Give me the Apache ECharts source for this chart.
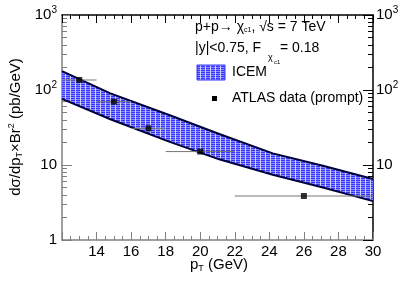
<!DOCTYPE html>
<html><head><meta charset="utf-8">
<script src="https://cdn.jsdelivr.net/npm/echarts@6/dist/echarts.min.js"></script>
<style>html,body{margin:0;padding:0;background:#fff}#c{width:415px;height:284px}</style>
</head><body><div id="c"></div>
<script>
// ICEM band (pT, lower, upper)
const bandPt    = [12, 14.8, 18.2, 21.1, 24.2, 27.1, 30];
const bandUpper = [179, 90, 46.4, 25.9, 14.3, 9.8, 6.5];
const bandLower = [76, 40.7, 20.5, 11.9, 7.4, 5.0, 3.3];
// ATLAS data (prompt)
const dataPt  = [13, 15, 17, 20, 26];
const dataVal = [136, 69.8, 30.8, 15.1, 3.86];
const dataLo  = [12, 14, 16, 18, 22];
const dataHi  = [14, 16, 18, 22, 30];
// ticks
const xTicks = [14, 16, 18, 20, 22, 24, 26, 28, 30];
const yMajor = [1, 10, 100, 1000];
const yMinor = [2,3,4,5,6,7,8,9,20,30,40,50,60,70,80,90,200,300,400,500,600,700,800,900];

const font = 'Liberation Sans, Arial, Helvetica, sans-serif';
const chart = echarts.init(document.getElementById('c'), null, {renderer: 'canvas'});

// hatched fill pattern
const pc = document.createElement('canvas');
pc.width = 5; pc.height = 2;
const g = pc.getContext('2d');
g.fillStyle = '#3434ff'; g.fillRect(0, 0, 5, 2);
g.fillStyle = '#8c8cff'; g.fillRect(0, 1, 5, 1);
g.fillStyle = '#d0d0ff'; g.fillRect(0, 0, 1, 2);
const pattern = {image: pc, repeat: 'repeat'};

function yLab(v) {
  if (v === 1) return '1';
  if (v === 10) return '10';
  if (v === 100) return '10{s|2}';
  if (v === 1000) return '10{s|3}';
  return '';
}
const labRich = {s: {fontSize: 10, fontFamily: font, color: '#000', padding: [0, 0, 9, 0]}};

const gray = '#808080';
const yAxisBase = {type: 'log', logBase: 10, min: 1, max: 1000, splitLine: {show: false}};

const bandData = bandPt.map((x, i) => [x, bandLower[i], bandUpper[i]]);
const errData = dataPt.map((x, i) => [x, dataVal[i], dataLo[i], dataHi[i]]);

chart.setOption({
  animation: false,
  grid: {left: 62, right: 42, top: 15, bottom: 44},
  xAxis: [
    {type: 'value', min: 12, max: 30, interval: 2, position: 'bottom',
     axisLine: {lineStyle: {color: gray, width: 1.5}},
     axisTick: {inside: true, length: 8, lineStyle: {color: gray}},
     minorTick: {show: true, splitNumber: 4, length: 4, lineStyle: {color: gray}},
     axisLabel: {showMinLabel: false, fontSize: 15, fontFamily: font, color: '#000', margin: 4},
     splitLine: {show: false}},
    {type: 'value', min: 12, max: 30, interval: 2, position: 'top',
     axisLine: {lineStyle: {color: '#000', width: 1.5}},
     axisTick: {inside: true, length: 8, lineStyle: {color: '#000'}},
     minorTick: {show: true, splitNumber: 4, length: 4, lineStyle: {color: '#000'}},
     axisLabel: {show: false}, splitLine: {show: false}}
  ],
  yAxis: [
    Object.assign({}, yAxisBase, {position: 'left',
      axisLine: {show: true, lineStyle: {color: gray, width: 1.5}},
      axisTick: {inside: true, length: 10, customValues: yMajor, lineStyle: {color: gray}},
      axisLabel: {customValues: yMajor, formatter: yLab, rich: labRich, fontSize: 15, fontFamily: font, color: '#000', margin: 5}}),
    Object.assign({}, yAxisBase, {position: 'left',
      axisLine: {show: false},
      axisTick: {inside: true, length: 5, customValues: yMinor, lineStyle: {color: gray}},
      axisLabel: {show: false}}),
    Object.assign({}, yAxisBase, {position: 'right',
      axisLine: {show: true, lineStyle: {color: '#000', width: 1.5}},
      axisTick: {inside: true, length: 10, customValues: yMajor, lineStyle: {color: '#000'}},
      axisLabel: {customValues: [10, 100, 1000], formatter: yLab, rich: labRich, fontSize: 15, fontFamily: font, color: '#000', margin: 3}}),
    Object.assign({}, yAxisBase, {position: 'right',
      axisLine: {show: false},
      axisTick: {inside: true, length: 5, customValues: yMinor, lineStyle: {color: '#000'}},
      axisLabel: {show: false}})
  ],
  series: [
    {type: 'custom', name: 'ICEM', xAxisIndex: 0, yAxisIndex: 0, data: bandData, z: 2,
     renderItem: function (params, api) {
       if (params.dataIndex !== 0) return null;
       const up = bandData.map(d => api.coord([d[0], d[2]]));
       const lo = bandData.map(d => api.coord([d[0], d[1]])).reverse();
       return {type: 'group', children: [
         {type: 'polygon', shape: {points: up.concat(lo)}, style: {fill: pattern}},
         {type: 'polyline', shape: {points: up}, style: {stroke: '#00003c', lineWidth: 2, fill: null}},
         {type: 'polyline', shape: {points: lo}, style: {stroke: '#00003c', lineWidth: 2, fill: null}}
       ]};
     }},
    {type: 'custom', name: 'err', xAxisIndex: 0, yAxisIndex: 0, data: errData, z: 3,
     renderItem: function (params, api) {
       const a = api.coord([api.value(2), api.value(1)]);
       const b = api.coord([api.value(3), api.value(1)]);
       return {type: 'line', shape: {x1: a[0], y1: a[1], x2: b[0], y2: b[1]}, style: {stroke: '#777', lineWidth: 1}};
     }},
    {type: 'scatter', name: 'ATLAS data (prompt)', xAxisIndex: 0, yAxisIndex: 0, z: 4,
     data: dataPt.map((x, i) => [x, dataVal[i]]), symbol: 'rect', symbolSize: 6,
     itemStyle: {color: '#000'}}
  ],
  graphic: [
    {type: 'text', left: 195, top: 20, style: {text: 'p+p→ χ{s|c1}, √s = 7 TeV', font: '14px ' + font, fill: '#000',
      rich: {s: {fontSize: 7, fontFamily: font, padding: [6, 0, 0, 0]}}}},
    {type: 'text', left: 195, top: 41, style: {text: '|y|<0.75, F', font: '14px ' + font, fill: '#000'}},
    {type: 'text', left: 268, top: 53, style: {text: 'χ', font: '9px ' + font, fill: '#000'}},
    {type: 'text', left: 274, top: 59, style: {text: 'c1', font: '6px ' + font, fill: '#000'}},
    {type: 'text', left: 280, top: 41, style: {text: '= 0.18', font: '14px ' + font, fill: '#000'}},
    {type: 'rect', shape: {x: 197, y: 65, width: 28, height: 15}, style: {fill: pattern, stroke: '#3434ff', lineWidth: 1}},
    {type: 'text', left: 232, top: 65, style: {text: 'ICEM', font: '14px ' + font, fill: '#000'}},
    {type: 'rect', shape: {x: 212, y: 96, width: 5, height: 5}, style: {fill: '#000'}},
    {type: 'text', left: 232, top: 91, style: {text: 'ATLAS data (prompt)', font: '14px ' + font, fill: '#000'}},
    {type: 'text', x: 248, y: 265, style: {text: 'p{s|T} (GeV)', font: '15px ' + font, fill: '#000', align: 'right', verticalAlign: 'middle',
      rich: {s: {fontSize: 9, fontFamily: font, padding: [8, 0, 0, 0]}}}},
    {type: 'text', x: 16, y: 127, rotation: Math.PI / 2, style: {text: 'dσ/dp{s|T}×Br{p|2} (pb/GeV)', font: '15px ' + font, fill: '#000', align: 'center', verticalAlign: 'middle',
      rich: {s: {fontSize: 9, fontFamily: font, padding: [8, 0, 0, 0]}, p: {fontSize: 9, fontFamily: font, padding: [0, 0, 9, 0]}}}}
  ]
});
</script></body></html>
